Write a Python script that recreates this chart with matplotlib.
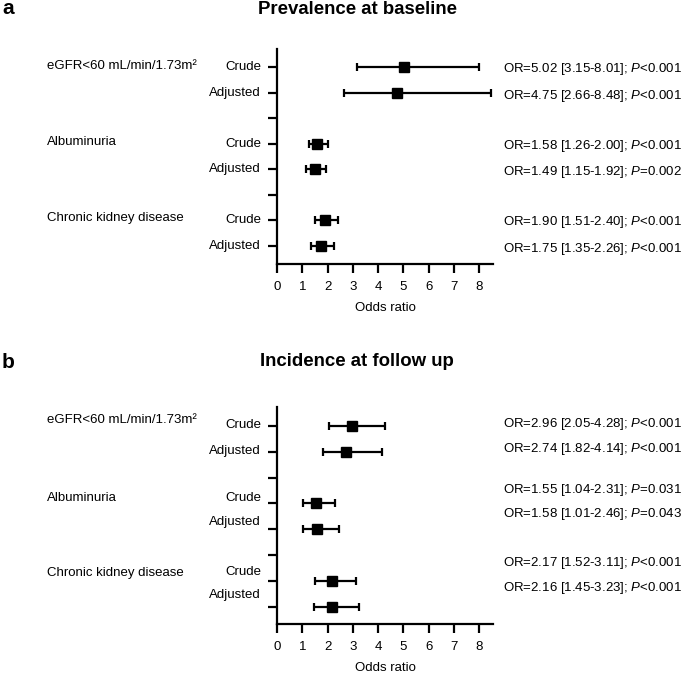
import matplotlib
matplotlib.use("Agg")
import matplotlib.pyplot as plt

plt.rcParams['font.family'] = ['Liberation Sans', 'DejaVu Sans']
plt.rcParams['mathtext.fontset'] = 'custom'
plt.rcParams['mathtext.rm'] = 'Liberation Sans'
plt.rcParams['mathtext.it'] = 'Liberation Sans:italic'

# ---- data ----
categories = ["eGFR<60 mL/min/1.73m\u00b2", "Albuminuria", "Chronic kidney disease"]
models = ["Crude", "Adjusted"]
panel_letters = ["a", "b"]
panel_titles = ["Prevalence at baseline", "Incidence at follow up"]

prev_or = [5.02, 4.75, 1.58, 1.49, 1.90, 1.75]
prev_lo = [3.15, 2.66, 1.26, 1.15, 1.51, 1.35]
prev_hi = [8.01, 8.48, 2.00, 1.92, 2.40, 2.26]
prev_p = ["<0.001", "<0.001", "<0.001", "=0.002", "<0.001", "<0.001"]

inc_or = [2.96, 2.74, 1.55, 1.58, 2.17, 2.16]
inc_lo = [2.05, 1.82, 1.04, 1.01, 1.52, 1.45]
inc_hi = [4.28, 4.14, 2.31, 2.46, 3.11, 3.23]
inc_p = ["<0.001", "<0.001", "=0.031", "=0.043", "<0.001", "<0.001"]

x_ticks = [0, 1, 2, 3, 4, 5, 6, 7, 8]
x_label = "Odds ratio"

# y positions (rows), top to bottom, with a gap row between groups
row_pos = [8, 7, 5, 4, 2, 1]
gap_pos = [6, 3]

# ---- style / layout (vertical label offsets in points) ----
W, H = 685, 675
panels = [
    dict(OR=prev_or, lo=prev_lo, hi=prev_hi, P=prev_p,
         top=49, bottom=264, ylim=(0.30, 8.70), title_y=10, letter_y=9,
         model_off=[0, 0, 0, 0, 0, 0], cat_off=[0.7, 1.5, 2.0],
         or_off=[-1.4, -2.5, -1.4, -2.0, -0.8, -2.0]),
    dict(OR=inc_or, lo=inc_lo, hi=inc_hi, P=inc_p,
         top=407, bottom=624, ylim=(0.34, 8.73), title_y=362, letter_y=362,
         model_off=[0.7, 0.7, 3.6, 5.0, 6.5, 8.6], cat_off=[4.3, 4.3, 5.8],
         or_off=[1.4, 2.2, 10.0, 10.8, 13.0, 13.7]),
]

fig = plt.figure(figsize=(W / 100, H / 100), dpi=100)
left_px, right_px = 277, 493
fs = 9.5

for pi, p in enumerate(panels):
    ax = fig.add_axes([left_px / W, 1 - p['bottom'] / H,
                       (right_px - left_px) / W, (p['bottom'] - p['top']) / H])
    ax.errorbar(p['OR'], row_pos, xerr=[[o - l for o, l in zip(p['OR'], p['lo'])],
                                        [h - o for o, h in zip(p['OR'], p['hi'])]],
                fmt='s', color='black', ms=7.5, elinewidth=1.6, capsize=3,
                capthick=1.6, zorder=3)
    ax.set_xlim(0, 8.55)
    ax.set_ylim(*p['ylim'])
    ax.set_xticks(x_ticks)
    ax.set_xticklabels([str(t) for t in x_ticks], fontsize=fs)
    ax.set_yticks(sorted(row_pos + gap_pos))
    ax.set_yticklabels([])
    for s in ['top', 'right']:
        ax.spines[s].set_visible(False)
    for s in ['left', 'bottom']:
        ax.spines[s].set_linewidth(1.6)
    ax.tick_params(axis='both', length=6.5, width=1.6, direction='out')
    ax.tick_params(axis='x', pad=5.5)
    ax.set_xlabel(x_label, fontsize=fs, labelpad=6.5)

    # model labels (Crude / Adjusted)
    for i, y in enumerate(row_pos):
        ax.annotate(models[i % 2], xy=(0, y), xycoords=('axes fraction', 'data'),
                    xytext=(-11.5, p['model_off'][i]), textcoords='offset points',
                    ha='right', va='center', fontsize=fs)
    # category labels
    for ci, cat in enumerate(categories):
        ax.annotate(cat, xy=(47 / W, row_pos[2 * ci]), xycoords=('figure fraction', 'data'),
                    xytext=(0, p['cat_off'][ci]), textcoords='offset points',
                    ha='left', va='center', fontsize=fs)
    # OR text
    for i, y in enumerate(row_pos):
        txt = "OR=%.2f [%.2f-%.2f]; $\\mathit{P}$%s" % (p['OR'][i], p['lo'][i], p['hi'][i], p['P'][i])
        ax.annotate(txt, xy=(503 / W, y), xycoords=('figure fraction', 'data'),
                    xytext=(0, p['or_off'][i]), textcoords='offset points',
                    ha='left', va='center', fontsize=fs)

    fig.text(357 / W, 1 - p['title_y'] / H, panel_titles[pi], ha='center', va='center',
             fontsize=13.4, fontweight='bold')
    fig.text(2 / W, 1 - p['letter_y'] / H, panel_letters[pi], ha='left', va='center',
             fontsize=15, fontweight='bold')

fig.savefig("out.png", dpi=100)
